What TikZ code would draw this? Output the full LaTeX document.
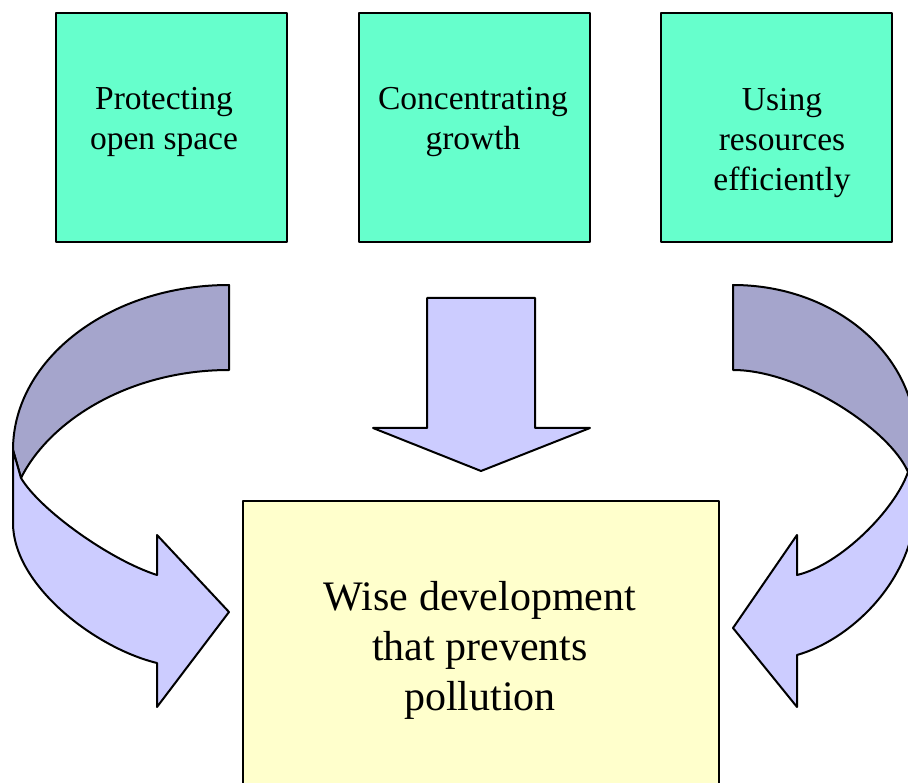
\documentclass[tikz,border=0pt]{standalone}
\usepackage{fontspec}
\setmainfont{Liberation Serif}
\definecolor{aqua}{HTML}{66FFCC}
\definecolor{cream}{HTML}{FFFFCC}
\definecolor{lilac}{HTML}{CCCCFF}
\definecolor{slate}{HTML}{A5A5CC}
\begin{document}
\begin{tikzpicture}[x=1pt,y=-1pt,line width=2pt,line join=round,
	goal/.style={draw,fill=aqua,minimum width=231pt,minimum height=229pt},
	goaltext/.style={anchor=base,align=center,font=\fontsize{33.5}{40}\selectfont},
	ribbon/.style={draw,fill=lilac},
	ribbonback/.style={draw,fill=slate}]
	\path[use as bounding box,clip] (0,0) rectangle (908,783);
	% the three goals
	\node[goal] (protect) at (171,127.5) {};
	\node[goal] (concentrate) at (474,127.5) {};
	\node[goal] (resources) at (776,127.5) {};
	\node[goaltext] (protecttxt) at (164,150) {Protecting\\open space};
	\node[goaltext] (concentratetxt) at (473,150) {Concentrating\\growth};
	\node[goaltext] (resourcestxt) at (782,191) {Using\\resources\\efficiently};
	% result
	\node[draw,fill=cream,minimum width=476pt,minimum height=300pt] (wise) at (481,651) {};
	\node[anchor=base,align=center,font=\fontsize{42}{50}\selectfont] (wisetxt) at (480,710) {Wise development\\that prevents\\pollution};
	% straight arrow
	\draw[ribbon] (427,298) -- (535,298) -- (535,428) -- (590,428) -- (481,471) -- (373,428) -- (427,428) -- cycle;
	% left ribbon, back then front
	\draw[ribbonback] (229,285) .. controls (110,285) and (13,359) .. (13,450) -- (21,478) .. controls (50,420) and (130,370) .. (229,370) -- cycle;
	\draw[ribbon] (13,450) -- (13,523) .. controls (13,585) and (95,648) .. (157,663) -- (157,707) -- (229,612) -- (157,535) -- (157,575) .. controls (110,560) and (40,510) .. (21,478) -- cycle;
	% right ribbon
	\draw[ribbonback] (733,285) .. controls (834,285) and (916,354) .. (916,440) -- (908,472) .. controls (890,430) and (800,370) .. (733,370) -- cycle;
	\draw[ribbon] (916,440) -- (916,500) .. controls (916,580) and (850,640) .. (797,655) -- (797,707) -- (733,628) -- (797,535) -- (797,575) .. controls (840,565) and (895,510) .. (908,472) -- cycle;
\end{tikzpicture}
\end{document}
